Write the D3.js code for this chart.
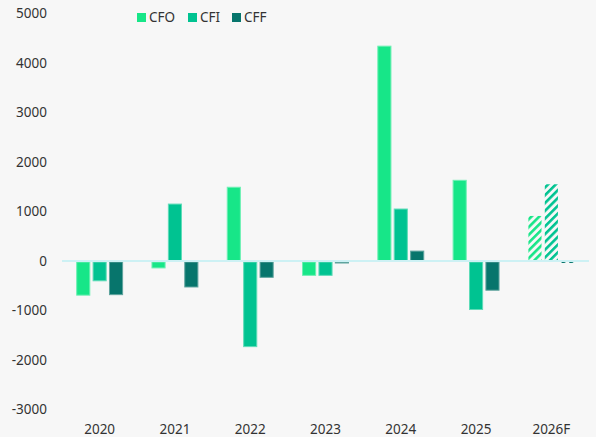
<!DOCTYPE html>
<html>
<head>
<meta charset="utf-8">
<script src="https://cdn.jsdelivr.net/npm/d3@7"></script>
<style>
  html, body { margin: 0; padding: 0; background: #f7f7f7; }
  svg { display: block; }
</style>
</head>
<body>
<svg id="chart" width="596" height="437"></svg>
<script>
// Cash flow by year (CFO / CFI / CFF); last year is a forecast
const years = ["2020", "2021", "2022", "2023", "2024", "2025", "2026F"];
const cfo = [-690, -140, 1490, -290, 4340, 1630, 910];
const cfi = [-400, 1150, -1730, -290, 1050, -980, 1550];
const cff = [-680, -525, -330, -30, 200, -590, -25];
const forecast = [false, false, false, false, false, false, true];
const seriesNames = ["CFO", "CFI", "CFF"];
const yTicks = [-3000, -2000, -1000, 0, 1000, 2000, 3000, 4000, 5000];

const colors = { CFO: "#17e688", CFI: "#00c391", CFF: "#07756c" };
const borders = { CFO: "#6ef0b4", CFI: "#5fdcb8", CFF: "#5fa49e" };

const svg = d3.select("#chart");
const plotLeft = 62, plotRight = 589, plotTop = 13.5, plotBottom = 409.5;
const font = "'Noto Sans', 'Open Sans', sans-serif";

const valuesBySeries = { CFO: cfo, CFI: cfi, CFF: cff };

const x0 = d3.scaleBand().domain(years).range([plotLeft, plotRight])
  .paddingInner(0.39).paddingOuter(0.195);
const x1 = d3.scaleBand().domain(seriesNames).range([0, x0.bandwidth()])
  .paddingInner(0.2);
const y = d3.scaleLinear().domain([-3000, 5000]).range([plotBottom, plotTop]);

// hatch patterns for forecast bars
const defs = svg.append("defs");
seriesNames.forEach(s => {
  const p = defs.append("pattern")
    .attr("id", "hatch-" + s)
    .attr("patternUnits", "userSpaceOnUse")
    .attr("width", 5.5).attr("height", 5.5)
    .attr("patternTransform", "rotate(45)");
  p.append("rect").attr("x", 0).attr("y", 0).attr("width", 2.6).attr("height", 5.5)
    .attr("fill", colors[s]);
});

// y axis labels (plain hyphen for negatives)
const yAxis = d3.axisLeft(y).tickValues(yTicks).tickSize(0).tickPadding(0)
  .tickFormat(d => String(d));
const gy = svg.append("g").attr("transform", `translate(${47},0)`).call(yAxis);
gy.select(".domain").remove();
gy.selectAll("text")
  .attr("fill", "#333")
  .style("font-family", font)
  .style("font-size", "13.5px");

// bars
const rows = years.map((yr, i) => ({
  year: yr,
  forecast: forecast[i],
  items: seriesNames.map(s => ({ s, v: valuesBySeries[s][i] }))
}));

const groups = svg.append("g").selectAll("g").data(rows).join("g")
  .attr("transform", d => `translate(${x0(d.year)},0)`);

groups.selectAll("rect")
  .data(d => d.items.map(it => Object.assign({ forecast: d.forecast }, it)))
  .join("rect")
  .attr("x", d => x1(d.s))
  .attr("width", x1.bandwidth())
  .attr("y", d => d.v >= 0 ? y(d.v) : y(0) + 1)
  .attr("height", d => Math.max(1, Math.abs(y(d.v) - y(0)) - (d.v < 0 ? 1 : 0)))
  .attr("fill", d => d.forecast ? `url(#hatch-${d.s})` : colors[d.s])
  .attr("stroke", d => d.forecast ? "none" : borders[d.s])
  .attr("stroke-width", 1);

// zero line
svg.append("line")
  .attr("x1", plotLeft).attr("x2", plotRight)
  .attr("y1", y(0)).attr("y2", y(0))
  .attr("stroke", "#cdf1f4").attr("stroke-width", 2);

// x axis labels
const xAxis = d3.axisBottom(x0).tickSize(0).tickPadding(0);
const gx = svg.append("g").attr("transform", `translate(0,${424})`).call(xAxis);
gx.select(".domain").remove();
gx.selectAll("text")
  .attr("fill", "#333")
  .style("font-family", font)
  .style("font-size", "13.5px");

// legend
const legend = svg.append("g").attr("transform", "translate(137,13)");
const legendX = [0, 51, 95];
seriesNames.forEach((s, i) => {
  const g = legend.append("g").attr("transform", `translate(${legendX[i]},0)`);
  g.append("rect").attr("width", 9).attr("height", 9).attr("fill", colors[s]);
  g.append("text").attr("x", 12).attr("y", 4.5).attr("dy", "0.35em")
    .attr("fill", "#333")
    .style("font-family", font).style("font-size", "13.5px")
    .text(s);
});
</script>
</body>
</html>
